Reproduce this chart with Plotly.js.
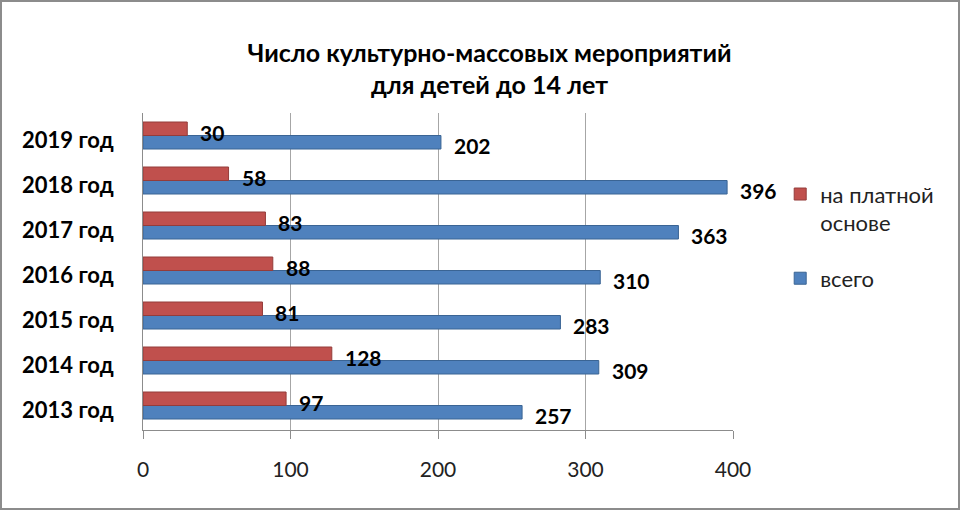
<!DOCTYPE html>
<html>
<head>
<meta charset="utf-8">
<script src="https://cdn.plot.ly/plotly-3.0.1.min.js"></script>
<style>
  html, body { margin: 0; padding: 0; background: #fff; }
  #chart {
    width: 960px; height: 510px;
    box-sizing: border-box;
    border: 2px solid #8c8c8c;
  }
</style>
</head>
<body>
<div id="chart"></div>
<script>
const years = ["2013 год", "2014 год", "2015 год", "2016 год", "2017 год", "2018 год", "2019 год"];
const paid = [97, 128, 81, 88, 83, 58, 30];
const total = [257, 309, 283, 310, 363, 396, 202];
const xTicks = [0, 100, 200, 300, 400];

const FONT = "Lato, 'Open Sans', sans-serif";

// blue goes first so it sits below the red one in each pair
const totalTrace = {
  type: "bar",
  orientation: "h",
  name: "всего",
  legendgroup: "total",
  legendrank: 2,
  y: years,
  x: total,
  marker: { color: "#4F81BD", line: { color: "#3a6494", width: 1 } },
  hoverinfo: "x",
};

const paidTrace = {
  type: "bar",
  orientation: "h",
  name: "на платной<br>основе",
  legendgroup: "paid",
  legendrank: 1,
  y: years,
  x: paid,
  marker: { color: "#C0504D", line: { color: "#943c3a", width: 1 } },
  hoverinfo: "x",
};

// value labels next to bar ends, nudged onto each bar of the pair
function valueLabels(values, yshift) {
  return values.map((v, i) => ({
    x: v,
    y: years[i],
    xref: "x",
    yref: "y",
    text: String(v),
    showarrow: false,
    xanchor: "left",
    yanchor: "middle",
    xshift: 11,
    yshift: yshift,
    font: { family: FONT, size: 21, weight: "bold", color: "#000" },
  }));
}

const layout = {
  width: 956,
  height: 506,
  margin: { l: 141, r: 225, t: 111, b: 78 },
  paper_bgcolor: "#fff",
  plot_bgcolor: "#fff",
  font: { family: FONT, color: "#000" },
  title: {
    text: "Число культурно-массовых мероприятий<br>для детей до 14 лет",
    font: { size: 25, weight: "bold", color: "#000" },
    x: 0.51,
    xanchor: "center",
    y: 0.882,
    yanchor: "middle",
  },
  barmode: "group",
  bargap: 0.4,
  bargroupgap: 0,
  showlegend: true,
  legend: {
    traceorder: "grouped",
    x: 1.08,
    xanchor: "left",
    y: 0.81,
    yanchor: "top",
    valign: "top",
    font: { size: 22, color: "#222" },
    itemwidth: 30,
    tracegroupgap: 24,
  },
  xaxis: {
    range: [0, 400],
    tickvals: xTicks,
    ticktext: xTicks.map(String),
    showgrid: true,
    gridcolor: "#a6a6a6",
    gridwidth: 1,
    zeroline: false,
    showline: true,
    linecolor: "#8c8c8c",
    ticks: "outside",
    ticklen: 8,
    tickcolor: "#8c8c8c",
    ticklabelstandoff: 13,
    tickfont: { size: 21, color: "#222" },
  },
  yaxis: {
    type: "category",
    categoryorder: "array",
    categoryarray: years,
    showline: true,
    linecolor: "#8c8c8c",
    showgrid: false,
    ticks: "",
    ticklabelstandoff: 24,
    ticklabelshift: 5,
    tickfont: { size: 22, weight: "bold", color: "#000" },
  },
  annotations: [...valueLabels(paid, 3), ...valueLabels(total, -10)],
};

Plotly.newPlot("chart", [totalTrace, paidTrace], layout, { displayModeBar: false, responsive: false });
</script>
</body>
</html>
